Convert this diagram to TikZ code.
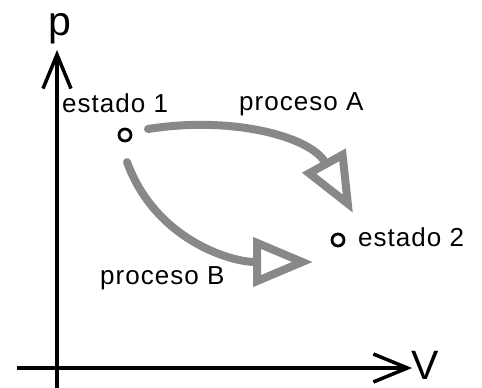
\documentclass[tikz,border=0pt]{standalone}
\usepackage{fontspec}
\setmainfont{Liberation Sans}
\usetikzlibrary{arrows.meta}
\definecolor{procgray}{HTML}{888888}
\tikzset{
  axis/.style={line width=3.5pt, -{Straight Barb[length=34pt,width=28pt,line width=3.5pt]}},
  state/.style={circle, draw=black, line width=2.8pt, minimum size=12pt, inner sep=0pt},
  proc/.style={draw=procgray, line width=8pt, line cap=round,
    -{Triangle[open, length=60pt, width=48pt, line width=8pt, line join=miter]}},
  lbl/.style={font=\fontsize{26}{30}\selectfont\addfontfeatures{LetterSpace=4}, inner sep=0pt},
  axlbl/.style={font=\fontsize{41}{46}\selectfont, inner sep=0pt, text depth=0pt}
}
\begin{document}
\begin{tikzpicture}[x=1pt,y=1pt]
\useasboundingbox (0,0) rectangle (482,388);
% axes
\coordinate (ybot) at (57,0);
\coordinate (ytop) at (57,338);
\coordinate (xleft) at (17,20);
\coordinate (xright) at (412,20);
\draw[axis] (ybot) -- (ytop);
\draw[axis] (xleft) -- (xright);
\node[axlbl, anchor=base] (plbl) at (60,352) {p};
\node[axlbl, anchor=base west] (vlbl) at (411,8) {V};
% states
\node[state] (s1) at (125,253) {};
\node[state] (s2) at (338,148) {};
\node[lbl, anchor=base west] (e1) at (62,275) {estado 1};
\node[lbl, anchor=base west] (e2) at (358,141) {estado 2};
\node[lbl, anchor=base west] (pA) at (239,277) {proceso A};
\node[lbl, anchor=base west] (pB) at (100,103) {proceso B};
% process arrows
\coordinate (a0) at (148,259);
\coordinate (a1) at (353,175);
\coordinate (b0) at (127,226);
\coordinate (b1) at (313,126);
\draw[proc] (a0) to[out=9, in=119] (a1);
\draw[proc] (b0) to[out=-70, in=180] (b1);
\end{tikzpicture}
\end{document}
